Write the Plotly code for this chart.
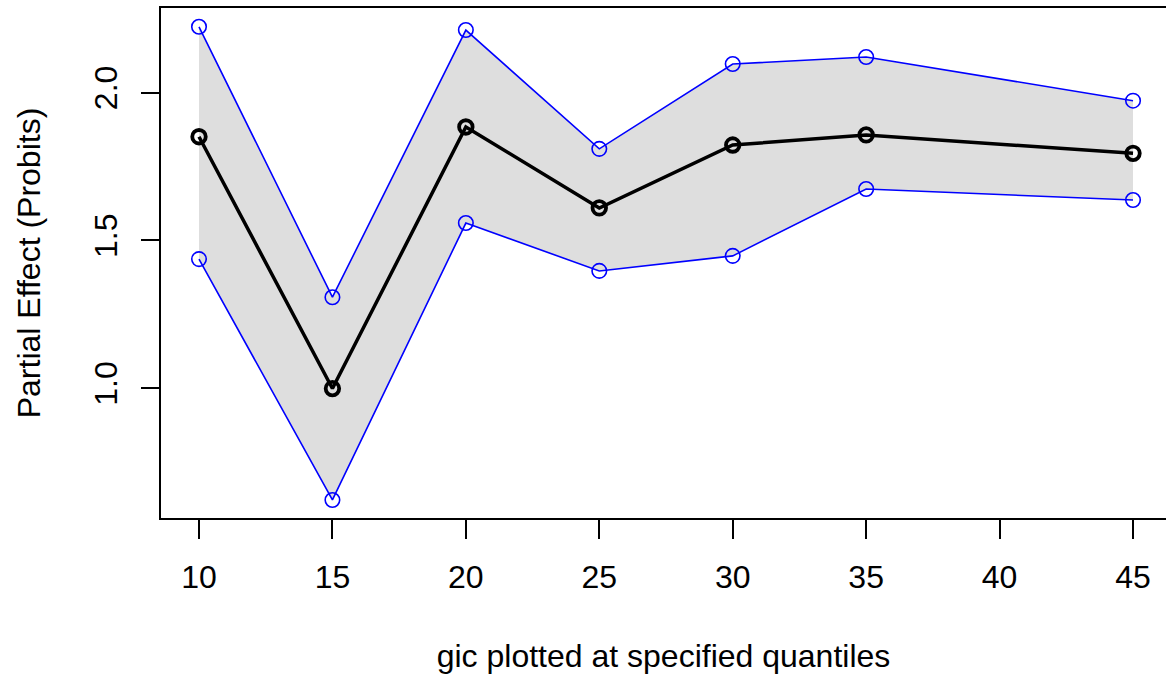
import plotly.graph_objects as go

# Quantile positions of gic and the estimated partial effects (probit scale)
quantiles = [10, 15, 20, 25, 30, 35, 45]
effect = [1.851, 0.999, 1.884, 1.610, 1.823, 1.857, 1.795]
upper = [2.223, 1.308, 2.212, 1.810, 2.097, 2.121, 1.973]
lower = [1.437, 0.622, 1.559, 1.397, 1.448, 1.674, 1.637]

x_ticks = [10, 15, 20, 25, 30, 35, 40, 45]
y_ticks = [1.0, 1.5, 2.0]
y_tick_labels = ["1.0", "1.5", "2.0"]

FONT = "Liberation Sans, Arial, sans-serif"

fig = go.Figure()

# Shaded confidence band between the lower and upper bounds
fig.add_trace(go.Scatter(
    x=quantiles + quantiles[::-1],
    y=upper + lower[::-1],
    fill="toself",
    fillcolor="#DEDEDE",
    line=dict(width=0),
    mode="lines",
    hoverinfo="skip",
    showlegend=False,
))

# Upper and lower bounds
for bound in (upper, lower):
    fig.add_trace(go.Scatter(
        x=quantiles, y=bound,
        mode="lines+markers",
        line=dict(color="#0000FF", width=1.6),
        marker=dict(symbol="circle-open", size=14.5,
                    line=dict(color="#0000FF", width=1.6)),
        showlegend=False,
    ))

# Point estimates
fig.add_trace(go.Scatter(
    x=quantiles, y=effect,
    mode="lines+markers",
    line=dict(color="black", width=3.5),
    marker=dict(symbol="circle-open", size=13.5,
                line=dict(color="black", width=3.8)),
    showlegend=False,
))

fig.update_layout(
    width=1166, height=677,
    margin=dict(l=161, r=0, t=8, b=159),
    paper_bgcolor="white", plot_bgcolor="white",
    font=dict(family=FONT, size=32, color="black"),
)

fig.update_xaxes(
    range=[8.576, 46.236],
    tickmode="array", tickvals=x_ticks,
    ticks="outside", ticklen=19, tickwidth=1.6, tickcolor="black",
    showline=True, linecolor="black", linewidth=1.6, mirror=True,
    showgrid=False, zeroline=False,
    ticklabelstandoff=11,
    tickfont=dict(size=32),
    title=dict(text="gic plotted at specified quantiles", standoff=50,
               font=dict(size=32)),
)

fig.update_yaxes(
    range=[0.561, 2.2866],
    tickmode="array", tickvals=y_ticks, ticktext=y_tick_labels,
    tickangle=-90,
    ticks="outside", ticklen=18, tickwidth=1.6, tickcolor="black",
    showline=True, linecolor="black", linewidth=1.6, mirror=False,
    showgrid=False, zeroline=False,
    ticklabelstandoff=11,
    tickfont=dict(size=32),
    title=dict(text="Partial Effect (Probits)", standoff=38,
               font=dict(size=32)),
)

fig.write_html("out.html")
